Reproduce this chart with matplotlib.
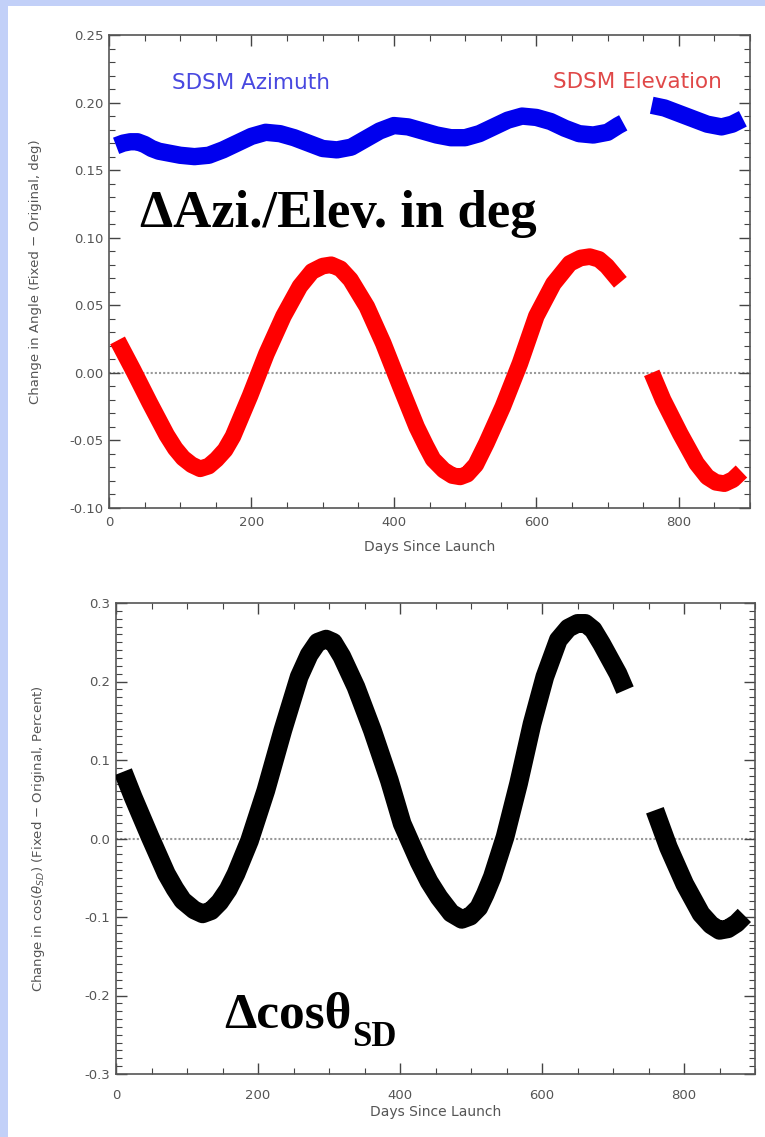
import matplotlib
matplotlib.use("Agg")
import matplotlib.pyplot as plt
from matplotlib.ticker import MultipleLocator, FormatStrFormatter
from matplotlib.patches import Rectangle

# SDSM azimuth change (deg), two segments separated by a data gap
az_days_1 = [10, 20, 30, 40, 50, 60, 70, 80, 100, 120, 140, 160, 180, 200, 220, 240,
             260, 280, 300, 320, 340, 360, 380, 400, 420, 440, 460, 480, 500, 520,
             540, 560, 580, 600, 620, 640, 660, 680, 700, 715, 722]
az_vals_1 = [0.168, 0.170, 0.171, 0.171, 0.169, 0.166, 0.164, 0.163, 0.161, 0.160,
             0.161, 0.165, 0.170, 0.175, 0.178, 0.177, 0.174, 0.170, 0.166, 0.165,
             0.167, 0.173, 0.179, 0.183, 0.182, 0.179, 0.176, 0.174, 0.174, 0.177,
             0.182, 0.187, 0.190, 0.189, 0.186, 0.181, 0.177, 0.176, 0.178, 0.183, 0.185]
az_days_2 = [762, 780, 800, 820, 840, 860, 875, 890]
az_vals_2 = [0.198, 0.196, 0.192, 0.188, 0.184, 0.182, 0.184, 0.188]

# SDSM elevation change (deg)
el_days_1 = [12, 34, 57, 70, 81, 93, 104, 116, 128, 140, 151, 163, 174, 198, 221, 245,
             268, 285, 300, 312, 325, 339, 362, 385, 409, 432, 445, 455, 470, 482, 493,
             503, 515, 530, 553, 577, 600, 624, 647, 662, 675, 688, 699, 718]
el_vals_1 = [0.024, 0.002, -0.022, -0.035, -0.046, -0.056, -0.063, -0.068, -0.071,
             -0.069, -0.064, -0.057, -0.047, -0.017, 0.014, 0.042, 0.064, 0.075, 0.079,
             0.080, 0.077, 0.069, 0.049, 0.022, -0.010, -0.040, -0.054, -0.064, -0.072,
             -0.076, -0.077, -0.075, -0.068, -0.052, -0.025, 0.007, 0.042, 0.066,
             0.081, 0.085, 0.086, 0.084, 0.079, 0.067]
el_days_2 = [762, 778, 802, 825, 840, 852, 864, 876, 888]
el_vals_2 = [0.000, -0.020, -0.045, -0.067, -0.077, -0.081, -0.082, -0.079, -0.073]

# change in cos(theta_SD), percent
cs_days_1 = [10, 24, 48, 71, 83, 94, 110, 122, 134, 146, 158, 169, 188, 211, 235, 258,
             272, 284, 296, 306, 318, 338, 361, 385, 403, 427, 441, 455, 472, 487, 499,
             511, 520, 530, 548, 567, 586, 604, 623, 637, 650, 661, 672, 684, 707, 717]
cs_vals_1 = [0.085, 0.053, 0.002, -0.045, -0.064, -0.079, -0.091, -0.096, -0.092,
             -0.081, -0.065, -0.045, -0.003, 0.061, 0.138, 0.206, 0.234, 0.250, 0.254,
             0.250, 0.232, 0.193, 0.138, 0.074, 0.019, -0.030, -0.055, -0.075, -0.095,
             -0.103, -0.099, -0.088, -0.071, -0.049, 0.002, 0.070, 0.146, 0.206, 0.253,
             0.268, 0.274, 0.274, 0.266, 0.248, 0.210, 0.189]
cs_days_2 = [759, 778, 801, 824, 838, 850, 862, 874, 885]
cs_vals_2 = [0.036, -0.011, -0.058, -0.096, -0.110, -0.117, -0.115, -0.108, -0.098]

W, H = 765, 1137
fig = plt.figure(figsize=(W / 100, H / 100), dpi=100)
fig.patch.set_facecolor("#c2d0f8")
fig.add_artist(Rectangle((8 / W, 0), 1, 1 - 6 / H, transform=fig.transFigure,
                         facecolor="white", edgecolor="none", zorder=-1))

ax1 = fig.add_axes([109 / W, 1 - 508 / H, (750 - 109) / W, (508 - 35) / H])
ax2 = fig.add_axes([116 / W, 1 - 1074 / H, (755 - 116) / W, (1074 - 603) / H])

txt_col = "#555555"


def band(ax, d, v, color, lw):
    ax.plot(d, v, color=color, lw=lw, solid_capstyle="butt",
            solid_joinstyle="round", zorder=3)


def style(ax, ymaj, ymin, fmt):
    ax.set_xlim(0, 900)
    ax.xaxis.set_major_locator(MultipleLocator(200))
    ax.xaxis.set_minor_locator(MultipleLocator(50))
    ax.yaxis.set_major_locator(MultipleLocator(ymaj))
    ax.yaxis.set_minor_locator(MultipleLocator(ymin))
    ax.yaxis.set_major_formatter(FormatStrFormatter(fmt))
    ax.tick_params(which="both", direction="in", top=True, right=True,
                   colors="#444444", labelcolor=txt_col, labelsize=9.5)
    ax.tick_params(which="major", length=8, width=1)
    ax.tick_params(which="minor", length=4, width=0.8)
    ax.tick_params(axis="y", pad=4)
    for s in ax.spines.values():
        s.set_color("#555555")
        s.set_linewidth(1.2)
    ax.axhline(0, color="#999999", ls=(0, (1, 1)), lw=1.5, zorder=1)


# top panel
style(ax1, 0.05, 0.01, "%.2f")
ax1.set_ylim(-0.10, 0.25)
band(ax1, az_days_1, az_vals_1, "#0000ee", 12.5)
band(ax1, az_days_2, az_vals_2, "#0000ee", 12.5)
band(ax1, el_days_1, el_vals_1, "#ff0000", 12)
band(ax1, el_days_2, el_vals_2, "#ff0000", 12)
ax1.tick_params(axis="x", pad=6)
ax1.set_xlabel("Days Since Launch", fontsize=10, color=txt_col, labelpad=8)
ax1.set_ylabel("Change in Angle (Fixed \u2212 Original, deg)", fontsize=9.5, color=txt_col)
ax1.yaxis.set_label_coords(-0.104, 0.5)

fig.text(251 / W, 1 - 83 / H, "SDSM Azimuth", color="#4848e0", fontsize=15.5,
         ha="center", va="center")
fig.text(637 / W, 1 - 82 / H, "SDSM Elevation", color="#e04848", fontsize=15.5,
         ha="center", va="center")
fig.text(140 / W, 1 - 227 / H, "\u0394Azi./Elev. in deg", family="Liberation Serif",
         weight="bold", fontsize=38, color="black", ha="left", va="baseline")

# bottom panel
style(ax2, 0.1, 0.01, "%.1f")
ax2.set_ylim(-0.3, 0.3)
band(ax2, cs_days_1, cs_vals_1, "black", 13.5)
band(ax2, cs_days_2, cs_vals_2, "black", 13.5)
ax2.tick_params(axis="x", pad=11)
ax2.set_xlabel("Days Since Launch", fontsize=10, color=txt_col, labelpad=2)
ax2.set_ylabel(r"Change in cos($\theta_{SD}$) (Fixed $-$ Original, Percent)",
               fontsize=9.5, color=txt_col)
ax2.yaxis.set_label_coords(-0.108, 0.5)

fig.text(224 / W, 1 - 1027 / H, "\u0394cos\u03b8", family="Liberation Serif",
         weight="bold", fontsize=37, color="black", ha="left", va="baseline")
fig.text(352 / W, 1 - 1046 / H, "SD", family="Liberation Serif",
         weight="bold", fontsize=25, color="black", ha="left", va="baseline")

fig.savefig("out.png", dpi=100, facecolor=fig.get_facecolor())
